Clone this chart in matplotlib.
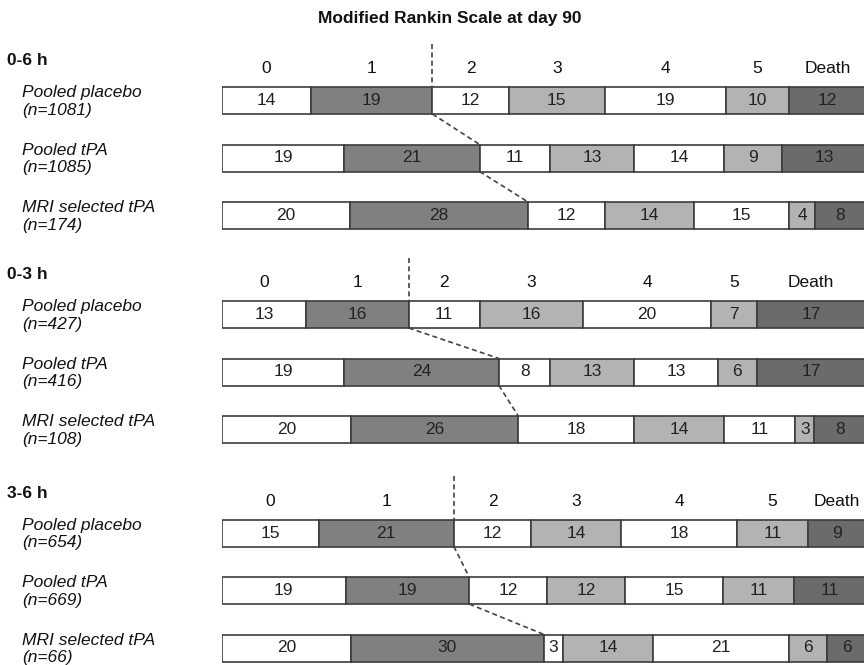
import matplotlib.pyplot as plt
import matplotlib.transforms as mtransforms
import numpy as np

plt.rcParams['font.family'] = ['Liberation Sans', 'DejaVu Sans']

categories = ['0', '1', '2', '3', '4', '5', 'Death']
groups = ['0-6 h', '0-3 h', '3-6 h']
row_labels = [
    ['Pooled placebo\n(n=1081)', 'Pooled tPA\n(n=1085)', 'MRI selected tPA\n(n=174)'],
    ['Pooled placebo\n(n=427)', 'Pooled tPA\n(n=416)', 'MRI selected tPA\n(n=108)'],
    ['Pooled placebo\n(n=654)', 'Pooled tPA\n(n=669)', 'MRI selected tPA\n(n=66)'],
]
mrs_0_6 = [[14, 19, 12, 15, 19, 10, 12],
           [19, 21, 11, 13, 14, 9, 13],
           [20, 28, 12, 14, 15, 4, 8]]
mrs_0_3 = [[13, 16, 11, 16, 20, 7, 17],
           [19, 24, 8, 13, 13, 6, 17],
           [20, 26, 18, 14, 11, 3, 8]]
mrs_3_6 = [[15, 21, 12, 14, 18, 11, 9],
           [19, 19, 12, 12, 15, 11, 11],
           [20, 30, 3, 14, 21, 6, 6]]
group_data = [mrs_0_6, mrs_0_3, mrs_3_6]

colors = ['#ffffff', '#808080', '#ffffff', '#b3b3b3', '#ffffff', '#b3b3b3', '#6b6b6b']
edge = '#3c3c3c'

W, H = 864, 665
fig = plt.figure(figsize=(W / 100, H / 100), dpi=100)
ax = fig.add_axes([222 / W, 0, 644 / W, 1])
ax.set_xlim(0, 100)
ax.set_ylim(H, 0)
ax.axis('off')
trans = mtransforms.blended_transform_factory(fig.transFigure, ax.transData)

group_top = [100.5, 314.5, 533]  # centre of first row in each group (px)
row_step = 57.5
bar_h = 27
fs = 12.5

fig.text(450 / W, 1 - 18 / H, 'Modified Rankin Scale at day 90',
         ha='center', va='center', fontsize=12.5, fontweight='bold', color='#111')

for g, data in enumerate(group_data):
    y0 = group_top[g]
    ax.text(7 / W, y0 - 40, groups[g], transform=trans, ha='left', va='center',
            fontsize=fs, fontweight='bold', color='#111')
    splits = []
    for r, vals in enumerate(data):
        yc = y0 + r * row_step
        vals = np.array(vals, dtype=float)
        pct = vals / vals.sum() * 100
        left = np.concatenate([[0], np.cumsum(pct)[:-1]])
        ax.barh(yc, pct, left=left, height=bar_h, color=colors,
                edgecolor=edge, linewidth=1.2)
        for v, l, p in zip(data[r], left, pct):
            ax.text(l + p / 2, yc, str(v), ha='center', va='center',
                    fontsize=fs, color='#222')
        ax.text(22 / W, yc + 1, row_labels[g][r], transform=trans, ha='left',
                va='center', fontsize=fs, style='italic', color='#111',
                linespacing=1.2)
        if r == 0:
            for c, l, p in zip(categories, left, pct):
                ax.text(l + p / 2, yc - 32, c, ha='center', va='center',
                        fontsize=fs, color='#111')
        splits.append(left[2])
    # vertical dashed line above first row, at boundary between mRS 1 and 2
    ax.plot([splits[0], splits[0]], [y0 - 57, y0 - bar_h / 2], color='#444',
            linestyle=(0, (3, 2)), linewidth=1.2)
    for r in range(2):
        ya = y0 + r * row_step + bar_h / 2
        yb = y0 + (r + 1) * row_step - bar_h / 2
        ax.plot([splits[r], splits[r + 1]], [ya, yb], color='#444',
                linestyle=(0, (3, 2)), linewidth=1.2)

fig.savefig('out.png', dpi=100)
